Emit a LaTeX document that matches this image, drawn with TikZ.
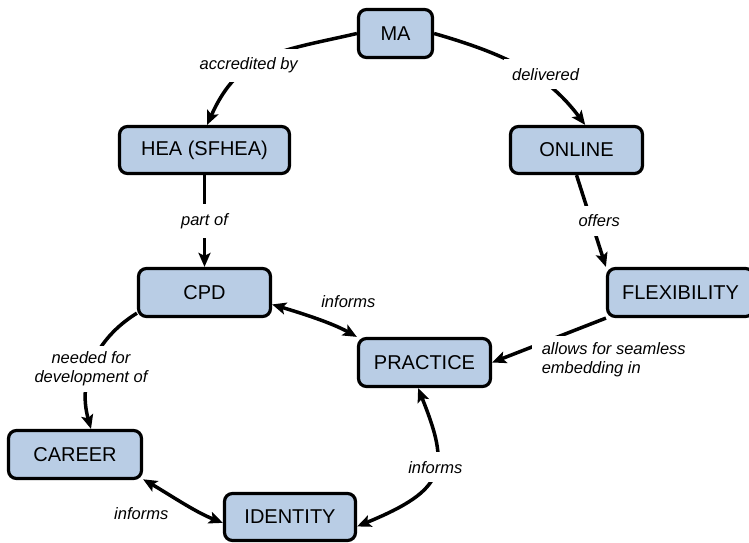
\documentclass[tikz,border=0pt]{standalone}
\usepackage{fontspec}
\setmainfont{Liberation Sans}
\usetikzlibrary{arrows.meta}
\definecolor{conceptfill}{RGB}{185,205,229}
\begin{document}
\begin{tikzpicture}[x=1pt,y=-1pt,
  concept/.style={draw=black, line width=3.2pt, fill=conceptfill,
    rounded corners=8pt, inner sep=0pt,
    font=\fontsize{20}{24}\selectfont},
  link/.style={line width=3.5pt,
    -{Stealth[length=14pt,width=12pt,inset=3pt]}},
  twoway/.style={line width=3.5pt,
    {Stealth[length=14pt,width=12pt,inset=3pt]}-{Stealth[length=14pt,width=12pt,inset=3pt]}},
  phrase/.style={fill=white, inner xsep=8pt, inner ysep=9pt,
    font=\fontsize{16.5}{19}\selectfont\itshape},
  sidephrase/.style={inner sep=1pt,
    font=\fontsize{16.5}{19}\selectfont\itshape}
]
\useasboundingbox (0,0) rectangle (749,543);

% concepts
\node[concept, minimum width=74pt,  minimum height=48pt] (ma)       at (395.5,33.5) {MA};
\node[concept, minimum width=170pt, minimum height=47pt] (hea)      at (204.5,150)  {HEA (SFHEA)};
\node[concept, minimum width=132pt, minimum height=47pt] (online)   at (576.5,150)  {ONLINE};
\node[concept, minimum width=132pt, minimum height=48pt] (cpd)      at (204.5,292.5){CPD};
\node[concept, minimum width=146pt, minimum height=48pt] (flex)     at (680.5,292.5){FLEXIBILITY};
\node[concept, minimum width=132pt, minimum height=48pt] (practice) at (424.5,362.5){PRACTICE};
\node[concept, minimum width=133pt, minimum height=48pt] (career)   at (75,454.5)   {CAREER};
\node[concept, minimum width=131pt, minimum height=47pt] (identity) at (290,517)    {IDENTITY};

% links
\draw[link] (ma.west) .. controls +(-78,18) and +(32,-72) ..
  node[phrase, pos=0.62, yshift=3pt] {accredited by} (hea.84);
\draw[link] (ma.east) .. controls +(77,22) and +(-36,-48) ..
  node[phrase, pos=0.6, xshift=7pt, yshift=4pt] {delivered} (online.71);
\draw[link] (hea) -- node[phrase] {part of} (cpd);
\draw[link] (online.south) -- node[phrase, xshift=8pt] {offers} (flex.north west);
\draw[link] (flex.south west) --
  node[phrase, pos=0.5, anchor=north west, inner xsep=10pt, inner ysep=7pt,
       align=left, shift={(-19pt,6.5pt)}] {allows for seamless\\embedding in}
  (practice.east);
\draw[link] (cpd.197) .. controls +(-42,26) and +(-13.5,-48) ..
  node[phrase, pos=0.55, align=center, inner ysep=6pt] {needed for\\development of} (career.58);

% two-way links
\draw[twoway] (cpd.-10) .. controls +(30,9) and +(-25,-14) ..
  node[sidephrase, pos=0.5, shift={(32pt,17pt)}] {informs} (practice.north west);
\draw[twoway] (career.-20) .. controls +(26,15) and +(-28,-11) ..
  node[sidephrase, pos=0.5, shift={(-41pt,-11pt)}] {informs} (identity.185);
\draw[twoway] (practice.256) .. controls +(32,80) and +(90,-37) ..
  node[phrase, pos=0.45] {informs} (identity.-8.5);
\end{tikzpicture}
\end{document}
